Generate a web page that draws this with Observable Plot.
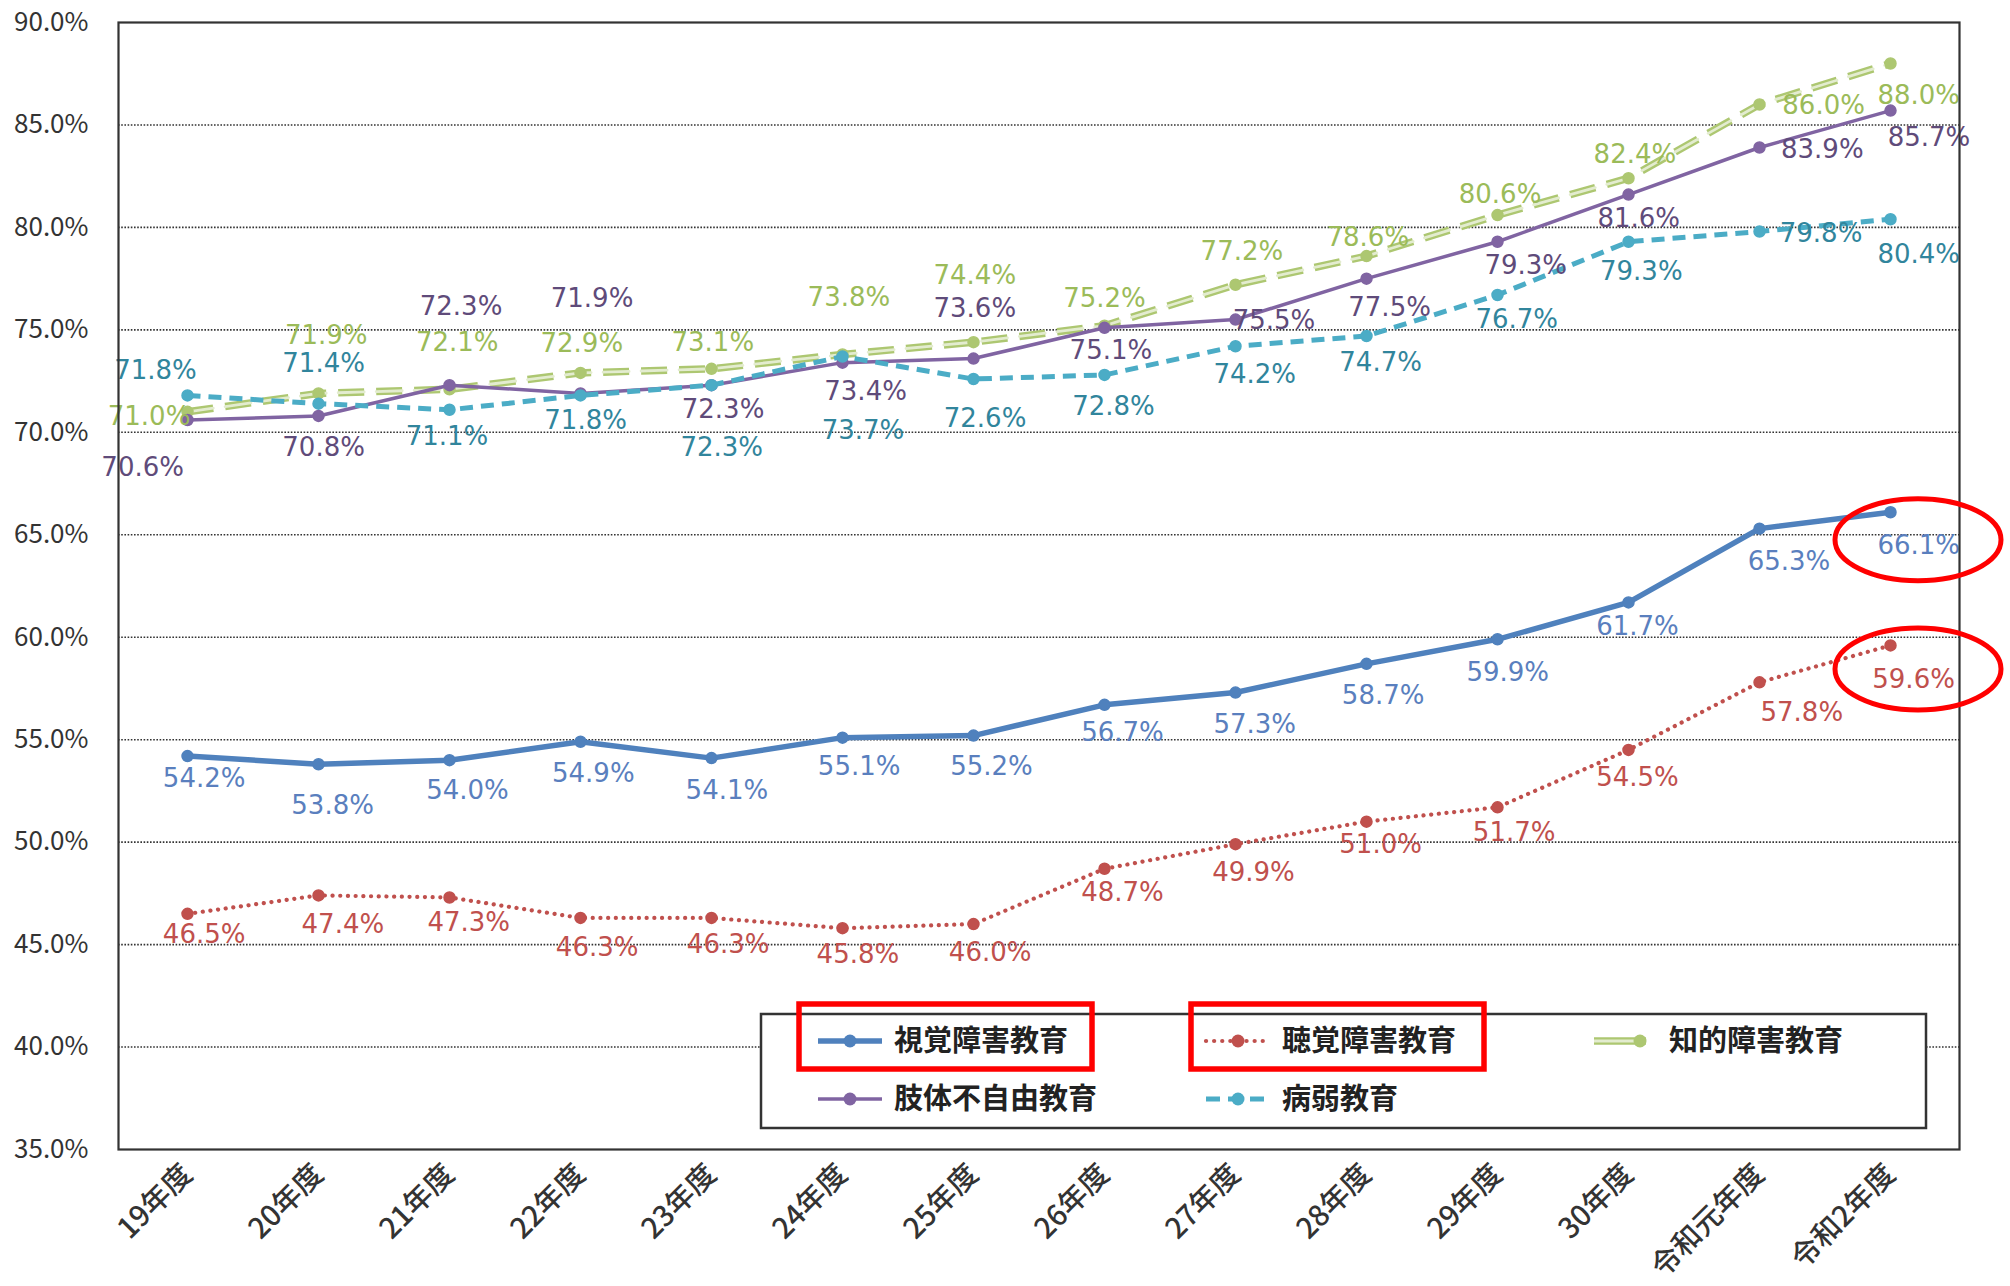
<!DOCTYPE html>
<html><head><meta charset="utf-8">
<script src="https://cdn.jsdelivr.net/npm/d3@7"></script>
<script src="https://cdn.jsdelivr.net/npm/@observablehq/plot@0.6"></script>
<style>html,body{margin:0;padding:0;background:#fff}svg{display:block}</style>
</head><body><div id="chart"></div>
<script>
// ---- data ----
const years = ["19年度","20年度","21年度","22年度","23年度","24年度","25年度","26年度","27年度","28年度","29年度","30年度","令和元年度","令和2年度"];
const seriesNames = ["視覚障害教育","聴覚障害教育","知的障害教育","肢体不自由教育","病弱教育"];
const visual       = [54.2,53.8,54.0,54.9,54.1,55.1,55.2,56.7,57.3,58.7,59.9,61.7,65.3,66.1];
const hearing      = [46.5,47.4,47.3,46.3,46.3,45.8,46.0,48.7,49.9,51.0,51.7,54.5,57.8,59.6];
const intellectual = [71.0,71.9,72.1,72.9,73.1,73.8,74.4,75.2,77.2,78.6,80.6,82.4,86.0,88.0];
const physical     = [70.6,70.8,72.3,71.9,72.3,73.4,73.6,75.1,75.5,77.5,79.3,81.6,83.9,85.7];
const health       = [71.8,71.4,71.1,71.8,72.3,73.7,72.6,72.8,74.2,74.7,76.7,79.3,79.8,80.4];
const yTicks = [35,40,45,50,55,60,65,70,75,80,85,90];
const highlighted = ["視覚障害教育","聴覚障害教育"];

// ---- styles (kept apart from data) ----
const K = 1.282;
const labelOffsets = {
  "視覚障害教育": [[13,18],[11,32],[14,24],[10,25],[12,25],[13,23],[14,24],[14,22],[15,25],[13,25],[8,26],[7,19],[23,26],[22,26]],
  "聴覚障害教育": [[13,16],[19,23],[15,20],[13,23],[13,21],[12,21],[13,22],[14,19],[14,22],[11,18],[13,20],[7,22],[33,24],[18,27]],
  "知的障害教育": [[-30,4],[6,-45],[6,-36],[1,-23],[1,-20],[5,-44],[1,-52],[0,-21],[5,-26],[1,-14],[2,-16],[5,-18],[50,1],[22,25]],
  "肢体不自由教育": [[-35,37],[4,25],[9,-61],[9,-74],[9,19],[18,23],[1,-39],[5,18],[30,1],[18,23],[22,19],[8,19],[49,2],[30,21]],
  "病弱教育": [[-25,-19],[4,-31],[-2,21],[4,20],[8,49],[16,58],[9,31],[7,25],[15,22],[11,21],[15,19],[10,23],[48,2],[22,28]]
};
const styles = {
  "視覚障害教育": {color:"#4F81BD", label:"#5A7FBE", width:5.5, dash:null},
  "聴覚障害教育": {color:"#C0504D", label:"#C0504D", width:4.2, dash:"0.1,7.6", round:true},
  "知的障害教育": {color:"#ADC771", label:"#9BBB59", width:7.5, dash:"26,12", inner:"#E3ECCF"},
  "肢体不自由教育": {color:"#8064A2", label:"#5F4B7A", width:3.5, dash:null},
  "病弱教育": {color:"#4BACC6", label:"#31859C", width:5, dash:"13,8"}
};
const valuesBy = {"視覚障害教育":visual,"聴覚障害教育":hearing,"知的障害教育":intellectual,"肢体不自由教育":physical,"病弱教育":health};
const drawOrder = ["知的障害教育","肢体不自由教育","病弱教育","聴覚障害教育","視覚障害教育"];

const rows = seriesNames.flatMap(s => valuesBy[s].map((v,i) => ({series:s, year:years[i], value:v, i})));

const FONT = "'Noto Sans CJK JP','Noto Sans',sans-serif";
const lineMarks = drawOrder.flatMap(s => {
  const st = styles[s], d = rows.filter(r => r.series === s);
  const m = [Plot.line(d, {x:"year", y:"value", stroke:st.color, strokeWidth:st.width,
    strokeDasharray:st.dash || undefined, strokeLinecap: st.round ? "round" : "butt"})];
  if (st.inner) m.push(Plot.line(d, {x:"year", y:"value", stroke:st.inner, strokeWidth:2.8, strokeDasharray:st.dash}));
  m.push(Plot.dot(d, {x:"year", y:"value", r:5.5, fill:st.color, stroke:st.color}));
  return m;
});
const labelMarks = rows.map(r => {
  const [dx,dy] = labelOffsets[r.series][r.i];
  return Plot.text([r], {x:"year", y:"value", text:d => d.value.toFixed(1)+"%",
    dx:dx*K, dy:dy*K, fill:styles[r.series].label, fontSize:26, fontFamily:"'DejaVu Sans',sans-serif",
    textAnchor:"middle", lineAnchor:"middle"});
});

const plot = Plot.plot({
  width:2010, height:1286,
  marginLeft:118, marginRight:51, marginTop:22, marginBottom:137,
  style:{fontFamily:FONT, background:"#fff", overflow:"visible"},
  x:{type:"point", domain:years, padding:0.5, label:null},
  y:{domain:[35,90], label:null},
  marks:[
    Plot.gridY(yTicks.filter(t => t > 35 && t < 90), {stroke:"#333", strokeOpacity:1, strokeWidth:1.6, strokeDasharray:"1.6,1.6"}),
    Plot.axisY(yTicks, {tickSize:0, tickPadding:30, tickFormat:d => d.toFixed(1)+"%", fontSize:26, fill:"#333", label:null}),
    Plot.axisX({tickSize:0, tickPadding:20, tickRotate:-45, fontSize:29, fontWeight:500, fill:"#333", label:null}),
    ...lineMarks,
    ...labelMarks,
    Plot.frame({stroke:"#333", strokeWidth:2.2})
  ]
});
document.getElementById("chart").appendChild(plot);

// ---- legend (overlay inside plot area) ----
const svg = d3.select(plot);
const lg = svg.append("g").attr("font-family", FONT).attr("text-anchor","start");
lg.append("rect").attr("x",761).attr("y",1014).attr("width",1165).attr("height",114)
  .attr("fill","#fff").attr("stroke","#333").attr("stroke-width",2.5);
const legendPos = {
  "視覚障害教育":[818,1041], "聴覚障害教育":[1206,1041], "知的障害教育":[1594,1041],
  "肢体不自由教育":[818,1099], "病弱教育":[1206,1099]
};
seriesNames.forEach(s => {
  const st = styles[s], [lx,ly] = legendPos[s];
  const len = st.inner ? 52 : 64;
  lg.append("line").attr("x1",lx).attr("x2",lx+len).attr("y1",ly).attr("y2",ly)
    .attr("stroke",st.color).attr("stroke-width",st.width)
    .attr("stroke-dasharray", st.dash && !st.inner ? (st.round ? "0.1,8" : "14,8") : null)
    .attr("stroke-linecap", st.round ? "round" : "butt");
  if (st.inner) lg.append("line").attr("x1",lx).attr("x2",lx+len).attr("y1",ly).attr("y2",ly)
    .attr("stroke",st.inner).attr("stroke-width",2.8);
  lg.append("circle").attr("cx", st.inner ? lx+46 : lx+32).attr("cy",ly).attr("r",6.5).attr("fill",st.color);
  lg.append("text").attr("x", st.inner ? lx+75 : lx+76).attr("y",ly).attr("dy","0.36em")
    .attr("font-size",29).attr("font-weight","bold").attr("fill","#222").text(s);
});
// red highlight boxes around the two highlighted legend items
const boxPos = {"視覚障害教育":[799,1004], "聴覚障害教育":[1191,1004]};
highlighted.forEach(s => {
  const [bx,by] = boxPos[s];
  svg.append("rect").attr("x",bx).attr("y",by).attr("width",293).attr("height",65)
    .attr("fill","none").attr("stroke","#FF0000").attr("stroke-width",5.5);
});
// red ellipses around last values of highlighted series
const xs = plot.scale("x"), ys = plot.scale("y");
highlighted.forEach((s, k) => {
  const v = valuesBy[s][years.length-1];
  const cx = xs.apply(years[years.length-1]) + 28;
  const cy = ys.apply(v) + (k === 0 ? 28 : 24);
  svg.append("ellipse").attr("cx",cx).attr("cy",cy).attr("rx",83).attr("ry",41)
    .attr("fill","none").attr("stroke","#FF0000").attr("stroke-width",5);
});
</script></body></html>
